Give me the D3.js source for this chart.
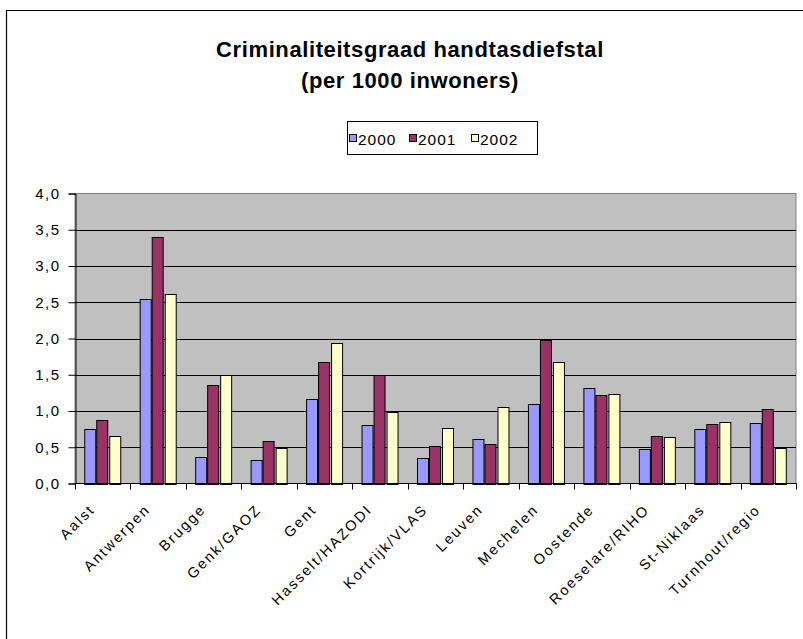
<!DOCTYPE html>
<html>
<head>
<meta charset="utf-8">
<script src="https://cdn.jsdelivr.net/npm/d3@7"></script>
<style>
  html, body { margin: 0; padding: 0; background: #fff; }
  svg { display: block; }
  text { font-family: "Liberation Sans", Arial, sans-serif; fill: #000; }
</style>
</head>
<body>
<svg id="chart" width="803" height="639"></svg>
<script>
const categories = ["Aalst", "Antwerpen", "Brugge", "Genk/GAOZ", "Gent", "Hasselt/HAZODI",
  "Kortrijk/VLAS", "Leuven", "Mechelen", "Oostende", "Roeselare/RIHO", "St-Niklaas", "Turnhout/regio"];
const seriesNames = ["2000", "2001", "2002"];
const values2000 = [0.75, 2.54, 0.37, 0.33, 1.17, 0.81, 0.35, 0.62, 1.09, 1.32, 0.48, 0.75, 0.83];
const values2001 = [0.87, 3.40, 1.36, 0.58, 1.67, 1.50, 0.52, 0.54, 1.98, 1.22, 0.66, 0.82, 1.03];
const values2002 = [0.66, 2.62, 1.50, 0.49, 1.94, 0.98, 0.76, 1.05, 1.67, 1.24, 0.64, 0.85, 0.49];
const yTicks = [0, 0.5, 1, 1.5, 2, 2.5, 3, 3.5, 4];
const titleLines = ["Criminaliteitsgraad handtasdiefstal", "(per 1000 inwoners)"];
const colors = ["#9999FF", "#993366", "#FFFFCC"];

const seriesValues = [values2000, values2001, values2002];

const svg = d3.select("#chart");

// outer chart frame (cut off at right/bottom)
svg.append("path")
  .attr("d", "M6.5,650 L6.5,10.5 L820,10.5")
  .attr("fill", "none").attr("stroke", "#000").attr("stroke-width", 1.2);

const L = 75, R = 796, T = 193.5, B = 483.5;

const x0 = d3.scaleBand().domain(categories).range([L, R]).paddingInner(1/3).paddingOuter(1/6);
const x1 = d3.scaleBand().domain(seriesNames).range([0, x0.bandwidth()]);
const y = d3.scaleLinear().domain([0, 4]).range([B, T]);

// plot background
svg.append("rect").attr("x", L).attr("y", T).attr("width", R - L).attr("height", B - T)
  .attr("fill", "#C0C0C0").attr("stroke", "#808080").attr("stroke-width", 1);

// gridlines
svg.append("g").selectAll("line").data(yTicks.filter(v => v > 0 && v < 4)).join("line")
  .attr("x1", L).attr("x2", R)
  .attr("y1", d => Math.round(y(d)) + 0.5).attr("y2", d => Math.round(y(d)) + 0.5)
  .attr("stroke", "#000").attr("stroke-width", 1);

// bars
const groups = svg.append("g").selectAll("g").data(categories).join("g")
  .attr("transform", d => `translate(${x0(d)},0)`);
groups.selectAll("rect").data((d, i) => seriesNames.map((s, j) => ({ s, v: seriesValues[j][i], j })))
  .join("rect")
  .attr("x", d => Math.round(x1(d.s)) + 0.5)
  .attr("width", Math.round(x1.bandwidth()) - 1)
  .attr("y", d => Math.round(y(d.v)) + 0.5)
  .attr("height", d => Math.round(y(0)) - Math.round(y(d.v)))
  .attr("fill", d => colors[d.j])
  .attr("stroke", "#000").attr("stroke-width", 1);

// y axis
const yAxis = d3.axisLeft(y).tickValues(yTicks).tickSize(7).tickPadding(8)
  .tickFormat(d => d3.format(".1f")(d).replace(".", ","));
const gy = svg.append("g").attr("transform", `translate(${L + 0.5},0)`).call(yAxis);
gy.select(".domain").attr("stroke", "#000");
gy.selectAll(".tick line").attr("stroke", "#000");
gy.selectAll(".tick text").style("font-family", "'Liberation Sans', Arial, sans-serif")
  .style("font-size", "15px").style("letter-spacing", "1.5px").attr("fill", "#000");

// x axis line and ticks between categories
svg.append("line").attr("x1", L).attr("x2", R + 0.5).attr("y1", B).attr("y2", B)
  .attr("stroke", "#000").attr("stroke-width", 1);
const step = x0.step();
svg.append("g").selectAll("line").data(d3.range(categories.length + 1)).join("line")
  .attr("x1", i => Math.round(L + i * step) + 0.5).attr("x2", i => Math.round(L + i * step) + 0.5)
  .attr("y1", B).attr("y2", B + 6)
  .attr("stroke", "#000");

// x labels
svg.append("g").selectAll("text").data(categories).join("text")
  .attr("transform", d => `translate(${x0(d) + x0.bandwidth() / 2 - 7},${B + 27}) rotate(-45)`)
  .attr("text-anchor", "end")
  .style("font-size", "14.5px").style("letter-spacing", "2px")
  .text(d => d);

// title
svg.append("g").selectAll("text").data(titleLines).join("text")
  .attr("x", 410).attr("y", (d, i) => 57 + i * 31)
  .attr("text-anchor", "middle")
  .style("font-size", "22px").style("font-weight", "bold").style("letter-spacing", "0.6px")
  .text(d => d);

// legend
const lg = svg.append("g");
lg.append("rect").attr("x", 347.5).attr("y", 121.5).attr("width", 190).attr("height", 33)
  .attr("fill", "#fff").attr("stroke", "#000").attr("stroke-width", 1);
const legX = [349, 409, 471];
const items = lg.selectAll("g").data(seriesNames).join("g")
  .attr("transform", (d, i) => `translate(${legX[i]},0)`);
items.append("rect").attr("x", 0.5).attr("y", 134.5).attr("width", 7).attr("height", 7)
  .attr("fill", (d, i) => colors[i]).attr("stroke", "#000");
items.append("text").attr("x", 9).attr("y", 145)
  .style("font-size", "15.5px").style("letter-spacing", "1px")
  .text(d => d);
</script>
</body>
</html>
